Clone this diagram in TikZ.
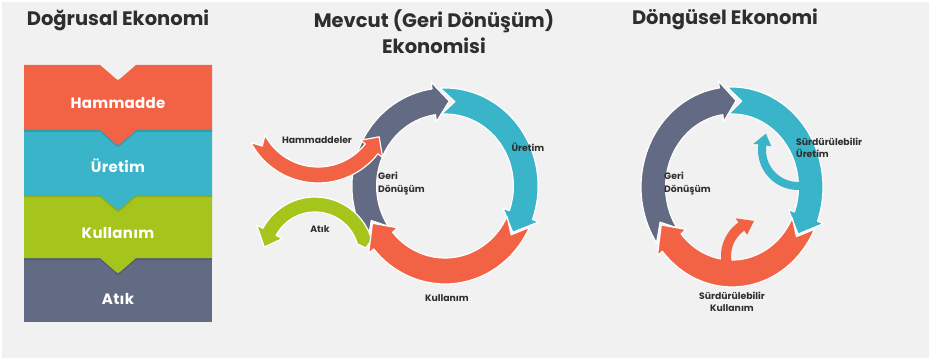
\documentclass[tikz,border=0pt]{standalone}
\usepackage{fontspec}
\setmainfont{Poppins}
\definecolor{bgc}{HTML}{F1F1F1}
\definecolor{cred}{HTML}{F26345}
\definecolor{cblue}{HTML}{3AB4C9}
\definecolor{cgreen}{HTML}{A6C51C}
\definecolor{cgray}{HTML}{636B84}
\definecolor{ctext}{HTML}{2E2E2E}
% #1 style, #2 start angle, #3 notch angle, #4 head base angle, #5 tip angle, #6 outer r, #7 inner r, #8 head overhang
\newcommand\ringarrow[8]{%
  \fill[#1] (#2:#6) arc[start angle=#2,end angle=#4,radius=#6]
    -- ({#4}:{#6+#8}) -- ({#5}:{(#6+#7)/2}) -- ({#4}:{#7-#8}) -- (#4:#7)
    arc[start angle=#4,end angle=#2,radius=#7] -- ({#3}:{(#6+#7)/2}) -- cycle;}
% plain hook arrow: no notch
\newcommand\hookarrow[7]{%
  \fill[#1] (#2:#5) arc[start angle=#2,end angle=#3,radius=#5]
    -- ({#3}:{#5+#7}) -- ({#4}:{(#5+#6)/2}) -- ({#3}:{#6-#7}) -- (#3:#6)
    arc[start angle=#3,end angle=#2,radius=#6] -- cycle;}
\tikzset{
  title/.style={font=\fontsize{19.5}{26}\selectfont\bfseries, text=ctext, align=center, inner sep=0pt},
  lbl/.style={font=\fontsize{9.3}{12.5}\selectfont\bfseries, text=ctext, inner sep=0pt},
  stacklbl/.style={font=\fontsize{15}{16}\selectfont\bfseries\addfontfeatures{LetterSpace=2}, text=white, inner sep=0pt},
  edge/.style={draw=white, line width=1.2pt, line join=round},
  shade/.style={fill=black, opacity=0.13},
}
\begin{document}
\begin{tikzpicture}[x=1pt,y=1pt]
\useasboundingbox (0,0) rectangle (931,362);
\fill[bgc] (2,4) rectangle (929,360);

% ---------- Linear economy stack ----------
\node[title] (t1) at (118,342) {Doğrusal Ekonomi};
% gray band
\fill[cgray] (24,40) rectangle (212,167);
% green band
\fill[shade] (24,102) -- (100,102) -- (115,89) .. controls (118,86.5) .. (121,89) -- (136,102) -- (212,102) -- (212,110) -- (24,110) -- cycle;
\fill[cgreen] (24,167) -- (24,104) -- (100,104) -- (115,91) .. controls (118,88.5) .. (121,91) -- (136,104) -- (212,104) -- (212,167) -- cycle;
% blue band
\fill[shade] (24,165) -- (100,165) -- (115,152) .. controls (118,149.5) .. (121,152) -- (136,165) -- (212,165) -- (212,172) -- (24,172) -- cycle;
\fill[cblue] (24,232) -- (24,167) -- (100,167) -- (115,154) .. controls (118,151.5) .. (121,154) -- (136,167) -- (212,167) -- (212,232) -- cycle;
% red band
\fill[shade] (24,230) -- (100,230) -- (115,217) .. controls (118,214.5) .. (121,217) -- (136,230) -- (212,230) -- (212,237) -- (24,237) -- cycle;
\fill[cred] (24,297) -- (24,232) -- (100,232) -- (115,219) .. controls (118,216.5) .. (121,219) -- (136,232) -- (212,232) -- (212,297) -- (136,297) -- (121,284) .. controls (118,281.5) .. (115,284) -- (100,297) -- cycle;
\node[stacklbl] (s1) at (118,259) {Hammadde};
\node[stacklbl] (s2) at (118,196) {Üretim};
\node[stacklbl] (s3) at (118,129) {Kullanım};
\node[stacklbl] (s4) at (118,63) {Atık};

% ---------- Current (recycling) economy ----------
\node[title] (t2) at (434,330) {Mevcut (Geri Dönüşüm)\\Ekonomisi};
\begin{scope}[shift={(445,176)}, xscale=0.95]
  \ringarrow{cgray,edge}{214}{204}{98}{87}{98}{72}{7}
  \ringarrow{cblue,edge}{93}{83}{-20}{-33}{98}{72}{7}
\end{scope}
\begin{scope}[shift={(318,255)}]
  \ringarrow{cred,edge}{208}{215}{322}{334}{76}{60}{6}
\end{scope}
\begin{scope}[shift={(315,106)}]
  \ringarrow{cgreen,edge}{16}{9}{152}{170}{59}{44}{7}
\end{scope}
\begin{scope}[shift={(445,176)}, xscale=0.95]
  \ringarrow{cred,edge}{-25}{-35}{-140}{-154}{98}{72}{7}
\end{scope}
\node[lbl] (m1) at (317,222) {Hammaddeler};
\node[lbl, anchor=west, align=left] (m2) at (378,178.5) {Geri\\Dönüşüm};
\node[lbl] (m3) at (528,215) {Üretim};
\node[lbl] (m4) at (320,133) {Atık};
\node[lbl] (m5) at (447,64) {Kullanım};

% ---------- Circular economy ----------
\node[title] (t3) at (725,343) {Döngüsel Ekonomi};
\begin{scope}[shift={(732,175)}, xscale=0.91]
  \ringarrow{cgray,edge}{214}{204}{98}{87}{100}{73}{7}
  \ringarrow{cblue,edge}{93}{83}{-20}{-33}{100}{73}{7}
\end{scope}
\begin{scope}[shift={(798,212)}]
  \hookarrow{cblue}{282}{172}{153}{40}{32}{5}
\end{scope}
\begin{scope}[shift={(732,175)}, xscale=0.91]
  \ringarrow{cred,edge}{-25}{-35}{-140}{-154}{100}{73}{7}
\end{scope}
\begin{scope}[shift={(762,106)}]
  \hookarrow{cred}{200}{125}{103}{41}{31}{5}
\end{scope}
\node[lbl, anchor=west, align=left] (r1) at (796,214) {Sürdürülebilir\\Üretim};
\node[lbl, anchor=west, align=left] (r2) at (664,178.5) {Geri\\Dönüşüm};
\node[lbl, align=center] (r3) at (732,60) {Sürdürülebilir\\Kullanım};
\end{tikzpicture}
\end{document}
